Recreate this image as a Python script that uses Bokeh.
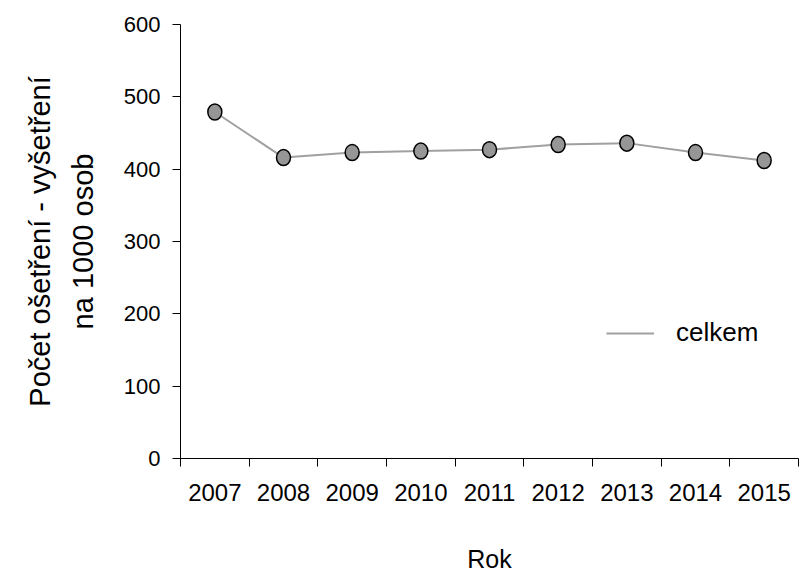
from bokeh.plotting import figure
from bokeh.models import FixedTicker, Range1d, ColumnDataSource, Legend, LegendItem
from bokeh.embed import file_html
from bokeh.resources import INLINE

years = ["2007", "2008", "2009", "2010", "2011", "2012", "2013", "2014", "2015"]
celkem = [479, 416, 423, 425, 427, 434, 436, 423, 412]
y_ticks = [0, 100, 200, 300, 400, 500, 600]

xs = [i + 0.5 for i in range(len(years))]
src = ColumnDataSource(dict(x=xs, y=celkem))

FONT = "Liberation Sans"

p = figure(width=800, height=575, output_backend="svg", toolbar_location=None,
           x_range=Range1d(0, len(years)), y_range=Range1d(0, 600),
           min_border_left=180, min_border_right=2, min_border_top=24, min_border_bottom=117)
p.outline_line_color = None
p.grid.visible = False
p.background_fill_color = "white"

line = p.line("x", "y", source=src, line_color="#a0a0a0", line_width=2)
p.ellipse("x", "y", source=src, width=14, height=16, width_units="screen", height_units="screen",
          fill_color="#969696", line_color="black", line_width=1.5)

xa = p.xaxis[0]
xa.ticker = FixedTicker(ticks=xs, minor_ticks=list(range(len(years) + 1)))
xa.major_label_overrides = {x: y for x, y in zip(xs, years)}
xa.major_tick_line_color = None
xa.minor_tick_line_color = "black"
xa.minor_tick_out = 8
xa.minor_tick_in = 0
xa.major_label_standoff = 17
xa.major_label_text_font = FONT
xa.major_label_text_font_size = "24px"
xa.major_label_text_color = "black"
xa.axis_label = "Rok"
xa.axis_label_text_font = FONT
xa.axis_label_text_font_size = "25px"
xa.axis_label_text_font_style = "normal"
xa.axis_label_text_color = "black"
xa.axis_label_standoff = 41
xa.axis_line_color = "black"

ya = p.yaxis[0]
ya.ticker = FixedTicker(ticks=y_ticks, minor_ticks=[])
ya.major_tick_out = 8
ya.major_tick_in = 0
ya.major_tick_line_color = "black"
ya.major_label_standoff = 12
ya.major_label_text_font = FONT
ya.major_label_text_font_size = "22px"
ya.major_label_text_color = "black"
ya.axis_label = "Počet ošetření - vyšetření\nna 1000 osob"
ya.axis_label_text_font = FONT
ya.axis_label_text_font_size = "29px"
ya.axis_label_text_font_style = "normal"
ya.axis_label_text_color = "black"
ya.axis_label_text_line_height = 1.35
ya.axis_label_standoff = 22
ya.axis_line_color = "black"

legend = Legend(items=[LegendItem(label="celkem", renderers=[line])],
                location=(426, 110), border_line_color=None, background_fill_alpha=0,
                label_text_font=FONT, label_text_font_size="26px", label_text_color="black",
                glyph_width=48, label_standoff=22)
p.add_layout(legend, "center")

open("out.html", "w").write(file_html(p, INLINE))
